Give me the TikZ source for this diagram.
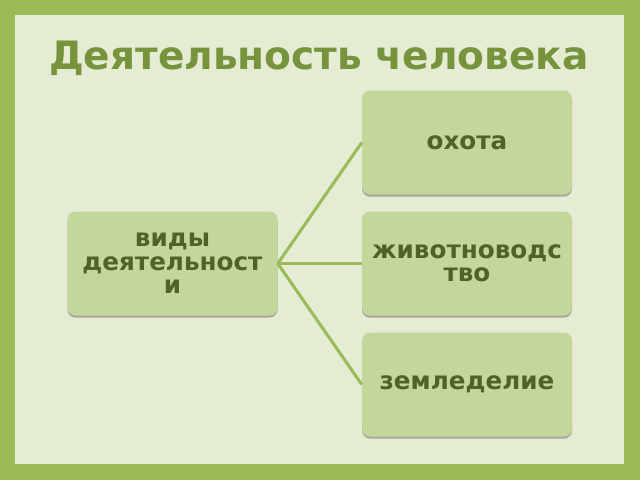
\documentclass[tikz,border=0pt]{standalone}
\usepackage{fontspec}
\setmainfont{DejaVu Sans}
\usetikzlibrary{shadows}
\definecolor{frame}{HTML}{9BBB59}
\definecolor{inner}{HTML}{E4ECD4}
\definecolor{boxfill}{HTML}{C4D79B}
\definecolor{boxtext}{HTML}{4F6228}
\definecolor{titlec}{HTML}{77933C}
\tikzset{
  item/.style={rounded corners=6pt, fill=boxfill, minimum width=157.5pt, minimum height=78pt,
    inner sep=0pt, align=center, text=boxtext, font=\fontsize{18.5}{17.6}\selectfont\bfseries,
    drop shadow={shadow xshift=0pt, shadow yshift=-1.6pt, fill=black!45, opacity=0.7}},
  link/.style={draw=frame, line width=2.3pt}
}
\begin{document}
\begin{tikzpicture}[x=0.75pt,y=-0.75pt]
\fill[frame] (0,0) rectangle (640,480);
\fill[inner] (15,15) rectangle (624,464);
\useasboundingbox (0,0) rectangle (640,480);
\node[text=titlec, font=\fontsize{29.3}{34}\selectfont\bfseries] (title) at (319,58) {Деятельность человека};
\node[item] (vidy) at (172.5,263.5) {виды\\деятельност\\и};
\node[item] (ohota) at (467,142.5) {охота};
\node[item] (zhiv) at (467,263.5) {животноводс\\тво};
\node[item] (zeml) at (467,384.5) {земледелие};
\draw[link] (vidy.east) -- (ohota.west);
\draw[link] (vidy.east) -- (zhiv.west);
\draw[link] (vidy.east) -- (zeml.west);
\end{tikzpicture}
\end{document}
